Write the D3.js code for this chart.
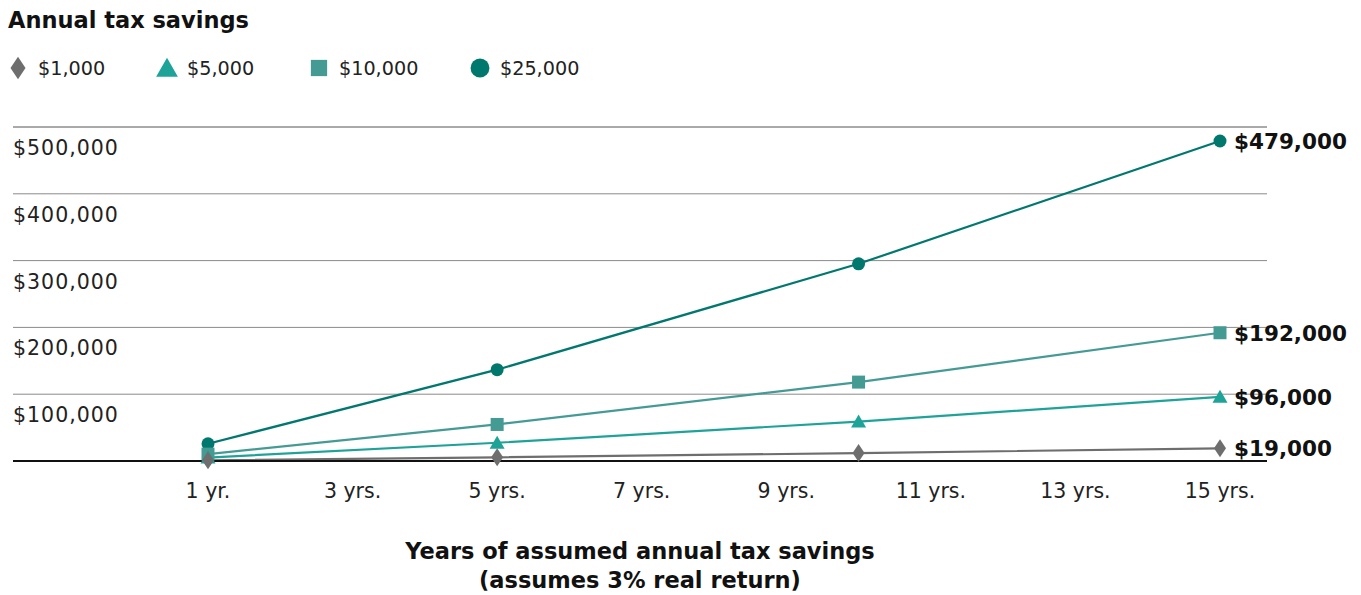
<!DOCTYPE html>
<html>
<head>
<meta charset="utf-8">
<script src="https://cdn.jsdelivr.net/npm/d3@7"></script>
<style>
  html, body { margin: 0; padding: 0; background: #fff; }
  svg { display: block; font-family: "DejaVu Sans", sans-serif; }
</style>
</head>
<body>
<svg id="chart" width="1361" height="595"></svg>
<script>
// Growth of annual tax savings at a 3% real return
const seriesNames = ["$1,000", "$5,000", "$10,000", "$25,000"];
const years = [1, 5, 10, 15];
const values1k  = [1030, 5470, 11800, 19000];
const values5k  = [5150, 27300, 59000, 96000];
const values10k = [10300, 54700, 118100, 192000];
const values25k = [25750, 136700, 295200, 479000];
const endLabels = ["$19,000", "$96,000", "$192,000", "$479,000"];
const xTicks = [1, 3, 5, 7, 9, 11, 13, 15];
const xTickLabels = ["1 yr.", "3 yrs.", "5 yrs.", "7 yrs.", "9 yrs.", "11 yrs.", "13 yrs.", "15 yrs."];
const yTicks = [100000, 200000, 300000, 400000, 500000];

const colors = ["#6e6e6e", "#1ea398", "#449b94", "#00786e"];
const allValues = [values1k, values5k, values10k, values25k];

const svg = d3.select("#chart");
const x = d3.scaleLinear().domain([1, 15]).range([208, 1220]);
const y = d3.scaleLinear().domain([0, 500000]).range([461, 127]);

// Title
svg.append("text").attr("x", 8).attr("y", 28)
  .attr("font-size", 22.5).attr("font-weight", "bold").attr("fill", "#111")
  .text("Annual tax savings");

// Marker drawing helper; s scales the symbol (diamond is stretched vertically)
function marker(g, i, cx, cy, s = 1) {
  const c = colors[i];
  if (i === 0) {
    g.append("path").attr("d", `M${cx},${cy - 9 * s}L${cx + 6 * s},${cy}L${cx},${cy + 9 * s}L${cx - 6 * s},${cy}Z`)
      .attr("fill", c);
  } else if (i === 1) {
    g.append("path").attr("d", `M${cx},${cy - 7 * s}L${cx + 7.5 * s},${cy + 6 * s}L${cx - 7.5 * s},${cy + 6 * s}Z`)
      .attr("fill", c);
  } else if (i === 2) {
    g.append("rect").attr("x", cx - 6.5 * s).attr("y", cy - 6.5 * s)
      .attr("width", 13 * s).attr("height", 13 * s).attr("fill", c);
  } else {
    g.append("circle").attr("cx", cx).attr("cy", cy).attr("r", 6.5 * s).attr("fill", c);
  }
}

// Legend
const legendX = [18, 167, 319, 480];
const legendScale = [1.25, 1.45, 1.25, 1.45];
const legend = svg.append("g");
seriesNames.forEach((name, i) => {
  marker(legend, i, legendX[i], 68, legendScale[i]);
  legend.append("text").attr("x", legendX[i] + 20).attr("y", 75)
    .attr("font-size", 19.2).attr("fill", "#222").text(name);
});

// Gridlines and y labels
const grid = svg.append("g");
yTicks.forEach(t => {
  grid.append("line").attr("x1", 13).attr("x2", 1267)
    .attr("y1", y(t)).attr("y2", y(t))
    .attr("stroke", t === 500000 ? "#555" : "#8a8a8a").attr("stroke-width", 1);
  grid.append("text").attr("x", 13).attr("y", y(t) + 28)
    .attr("font-size", 20.5).attr("letter-spacing", 1).attr("fill", "#222")
    .text(d3.format("$,")(t));
});

// X tick labels
svg.append("g").selectAll("text").data(xTicks).join("text")
  .attr("x", d => x(d)).attr("y", 498)
  .attr("text-anchor", "middle").attr("font-size", 20.5).attr("fill", "#222")
  .text((d, i) => xTickLabels[i]);

// Lines
const line = d3.line().x((d, i) => x(years[i])).y(d => y(d));
const lines = svg.append("g");
allValues.forEach((vals, i) => {
  lines.append("path").attr("d", line(vals))
    .attr("fill", "none").attr("stroke", colors[i]).attr("stroke-width", 2.2);
});

// Baseline
svg.append("line").attr("x1", 13).attr("x2", 1267).attr("y1", y(0)).attr("y2", y(0))
  .attr("stroke", "#111").attr("stroke-width", 2);

// Markers
const marks = svg.append("g");
[3, 2, 1, 0].forEach(i => {
  allValues[i].forEach((v, j) => marker(marks, i, x(years[j]), y(v)));
});

// End value labels
svg.append("g").selectAll("text").data(allValues).join("text")
  .attr("x", 1234).attr("y", d => y(d[d.length - 1]) + 8)
  .attr("font-size", 21.5).attr("font-weight", "bold").attr("fill", "#111")
  .text((d, i) => endLabels[i]);

// Axis title
const xt = svg.append("text").attr("text-anchor", "middle")
  .attr("font-size", 22.5).attr("font-weight", "bold").attr("fill", "#111");
xt.append("tspan").attr("x", 640).attr("y", 559).text("Years of assumed annual tax savings");
xt.append("tspan").attr("x", 640).attr("y", 588).text("(assumes 3% real return)");
</script>
</body>
</html>
